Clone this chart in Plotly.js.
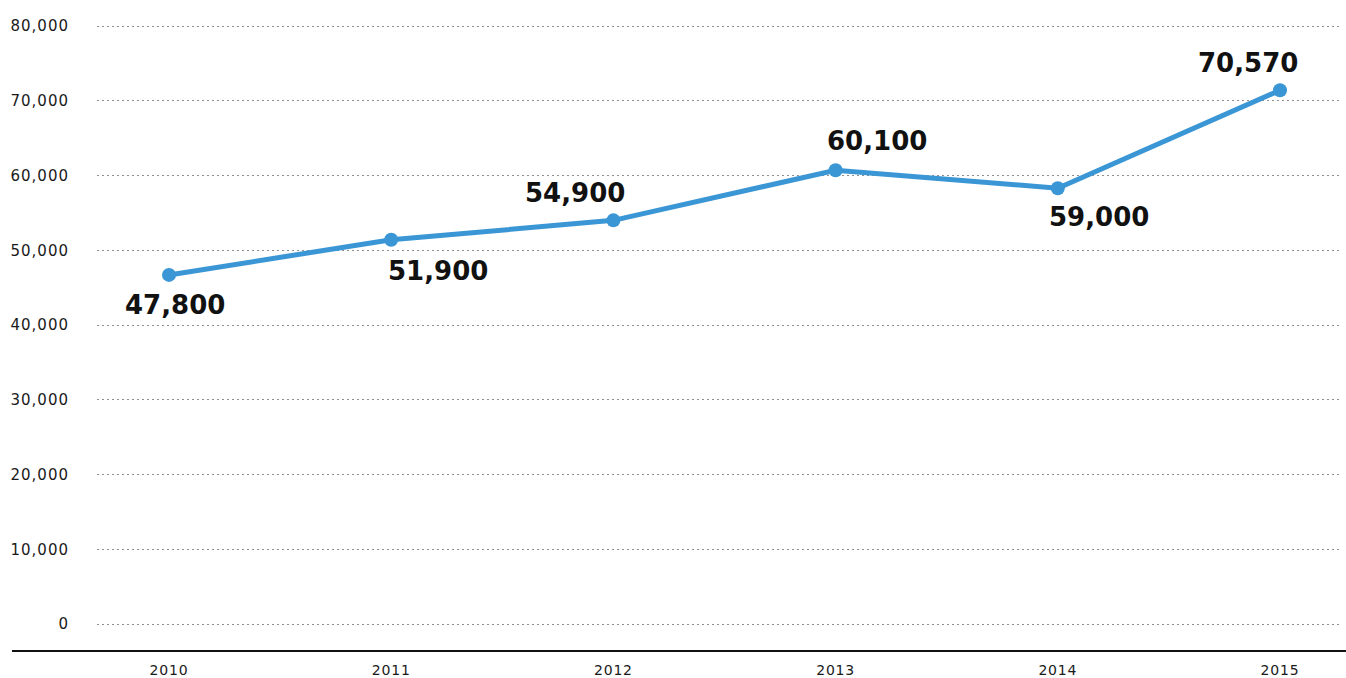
<!DOCTYPE html>
<html>
<head>
<meta charset="utf-8">
<script src="https://cdn.plot.ly/plotly-3.0.1.min.js"></script>
<style>
html,body{margin:0;padding:0;background:#fff;}
#chart{width:1346px;height:678px;}
.ytick text{letter-spacing:1px;}
.xtick text{letter-spacing:0.8px;}
</style>
</head>
<body>
<div id="chart"></div>
<script>
var years = [2010, 2011, 2012, 2013, 2014, 2015];
var values = [46700, 51400, 54000, 60700, 58300, 71400];
var labels = ["47,800", "51,900", "54,900", "60,100", "59,000", "70,570"];
var yTickVals = [0, 10000, 20000, 30000, 40000, 50000, 60000, 70000, 80000];
var yTickText = ["0", "10,000", "20,000", "30,000", "40,000", "50,000", "60,000", "70,000", "80,000"];

var labelOffsets = [[6, -30], [47, -31], [-38, 27], [41, 29], [41, -29], [-32, 27]];

var annotations = years.map(function (yr, i) {
  return {
    x: yr, y: values[i], xref: 'x', yref: 'y',
    text: labels[i], showarrow: false,
    xshift: labelOffsets[i][0], yshift: labelOffsets[i][1],
    font: {family: 'DejaVu Sans', size: 26, color: '#111', weight: 'bold'}
  };
});

var trace = {
  x: years, y: values, type: 'scatter', mode: 'lines+markers',
  line: {color: '#3a96d4', width: 5},
  marker: {color: '#3a96d4', size: 14},
  hoverinfo: 'none'
};

var layout = {
  width: 1346, height: 678,
  margin: {l: 97, r: 6, t: 20, b: 27},
  paper_bgcolor: '#fff', plot_bgcolor: '#fff',
  showlegend: false,
  xaxis: {
    range: [2009.676, 2015.27], tickvals: years, ticktext: years.map(String),
    showgrid: false, zeroline: false, showline: false, ticks: '',
    ticklabelstandoff: 9,
    tickfont: {family: 'DejaVu Sans', size: 14, color: '#1a1a1a'}
  },
  yaxis: {
    range: [-3612, 80803], tickvals: yTickVals, ticktext: yTickText,
    showgrid: true, gridcolor: '#8f8f8f', griddash: '2px,3px', gridwidth: 1,
    zeroline: false, showline: false, ticks: '',
    ticklabelstandoff: 27,
    tickfont: {family: 'DejaVu Sans', size: 15, color: '#1a1a1a'}
  },
  shapes: [{
    type: 'line', xref: 'paper', yref: 'paper',
    x0: -0.0684, x1: 1.0048, y0: 0, y1: 0,
    line: {color: '#111', width: 2}
  }],
  annotations: annotations
};

Plotly.newPlot('chart', [trace], layout, {displayModeBar: false, staticPlot: true});
</script>
</body>
</html>
